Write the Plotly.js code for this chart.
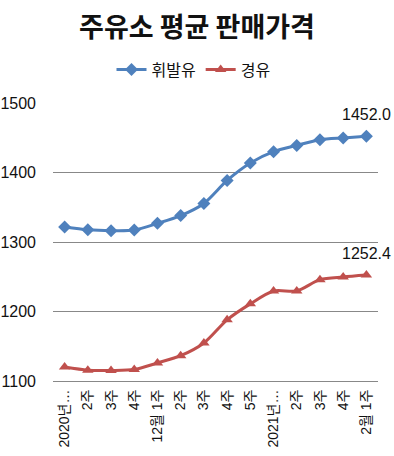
<!DOCTYPE html>
<html>
<head>
<meta charset="utf-8">
<script src="https://cdn.plot.ly/plotly-3.0.1.min.js"></script>
<style>html,body{margin:0;padding:0;background:#fff}#chart{width:394px;height:456px}</style>
</head>
<body>
<div id="chart"></div>
<script>
var weekLabels = ["2020년…","2주","3주","4주","12월 1주","2주","3주","4주","5주","2021년…","2주","3주","4주","2월 1주"];
var gasoline = [1321.5, 1317.5, 1316.3, 1317.2, 1326.8, 1338.0, 1355.5, 1388.6, 1413.7, 1430.0, 1439.0, 1447.2, 1449.8, 1452.0];
var diesel = [1120.0, 1115.5, 1115.2, 1116.4, 1126.0, 1136.4, 1154.7, 1188.0, 1211.0, 1229.5, 1229.5, 1245.8, 1249.6, 1252.4];
var seriesNames = ["휘발유","경유"];

var idx = weekLabels.map(function(_, i){ return i; });
var font = "Liberation Sans, Arial, Noto Sans CJK KR, sans-serif";

var traces = [
  {x: idx, y: gasoline, name: seriesNames[0], type: "scatter", mode: "lines+markers",
   line: {color: "#4F81BD", width: 3, shape: "spline", smoothing: 0.8},
   marker: {symbol: "diamond", size: 10, color: "#4F81BD"}},
  {x: idx, y: diesel, name: seriesNames[1], type: "scatter", mode: "lines+markers",
   line: {color: "#C0504D", width: 3, shape: "spline", smoothing: 0.8},
   marker: {symbol: "triangle-up", size: 10, color: "#C0504D"}}
];

var last = idx.length - 1;
var layout = {
  width: 394, height: 456,
  margin: {l: 53, r: 16, t: 103, b: 75},
  paper_bgcolor: "#fff", plot_bgcolor: "#fff",
  font: {family: font, color: "#111", size: 15},
  title: {text: "<b>주유소 평균 판매가격</b>", x: 0.5, xanchor: "center", y: 0.94, yanchor: "middle",
          font: {family: "Noto Sans CJK KR, sans-serif", size: 27, color: "#111"}},
  showlegend: true,
  legend: {orientation: "h", x: 0.18, xanchor: "left", xref: "paper", y: 1.12, yanchor: "middle",
           font: {family: "Noto Sans CJK KR, sans-serif", size: 16, color: "#111"}, itemwidth: 30},
  xaxis: {range: [-0.5, 13.5], tickmode: "array", tickvals: idx, ticktext: weekLabels,
          tickangle: -90, showgrid: false, zeroline: false, showline: true, linecolor: "#888", linewidth: 1,
          ticks: "", ticklabelstandoff: 2,
          tickfont: {family: "Liberation Sans, Noto Sans CJK KR, sans-serif", size: 14, color: "#111"},
          fixedrange: true},
  yaxis: {range: [1100, 1500], tickvals: [1100, 1200, 1300, 1400, 1500], showgrid: true, gridcolor: "#888",
          gridwidth: 1, zeroline: false, showline: false, ticks: "", ticklabelstandoff: 16,
          tickfont: {family: font, size: 16, color: "#111"}, fixedrange: true},
  annotations: [
    {x: last, y: gasoline[last], text: gasoline[last].toFixed(1), showarrow: false, yshift: 22,
     font: {family: font, size: 16, color: "#111"}},
    {x: last, y: diesel[last], text: diesel[last].toFixed(1), showarrow: false, yshift: 22,
     font: {family: font, size: 16, color: "#111"}}
  ]
};
Plotly.newPlot("chart", traces, layout, {displayModeBar: false, staticPlot: true});
</script>
</body>
</html>
